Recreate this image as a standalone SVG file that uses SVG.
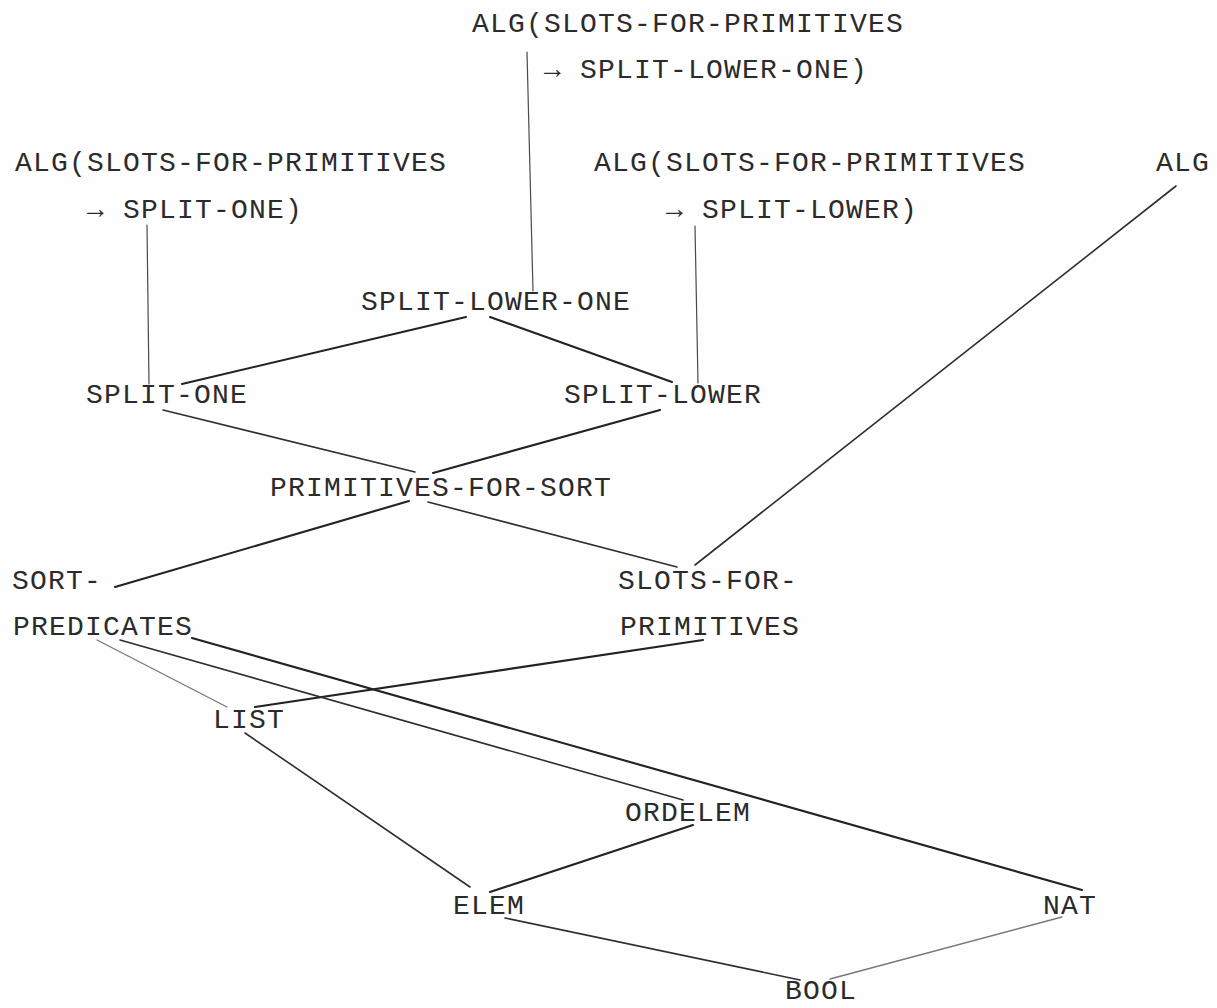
<svg xmlns="http://www.w3.org/2000/svg" width="1217" height="1008" viewBox="0 0 1217 1008">
  <style>
    .lbl { font-family: "Liberation Mono", "DejaVu Sans Mono", monospace; font-size: 28px; letter-spacing: 1.2px; fill: #2b2b2b; }
    .edge { stroke: #2e2e2e; stroke-linecap: round; fill: none; }
    .thin { stroke-width: 1.2; stroke: #4a4a4a; }
    .mid { stroke-width: 1.6; }
    .bold { stroke-width: 2.1; stroke: #222; }
    .faint { stroke-width: 1.3; stroke: #777; }
  </style>
  <rect width="1217" height="1008" fill="#fefefe"/>

  <!-- connectors of the lattice -->
  <g id="edges">
    <line class="edge thin" x1="527" y1="52" x2="533" y2="291"/>
    <line class="edge thin" x1="147" y1="225" x2="149" y2="384"/>
    <line class="edge thin" x1="695" y1="226" x2="698" y2="383"/>
    <line class="edge mid" x1="1176" y1="186" x2="695" y2="565"/>
    <line class="edge bold" x1="466" y1="317" x2="182" y2="384"/>
    <line class="edge bold" x1="490" y1="317" x2="672" y2="382"/>
    <line class="edge mid" x1="163" y1="410" x2="415" y2="472"/>
    <line class="edge bold" x1="660" y1="410" x2="433" y2="473"/>
    <line class="edge bold" x1="409" y1="501" x2="115" y2="587"/>
    <line class="edge mid" x1="428" y1="502" x2="677" y2="567"/>
    <line class="edge bold" x1="703" y1="640" x2="255" y2="707"/>
    <line class="edge faint" x1="97" y1="640" x2="227" y2="707"/>
    <line class="edge mid" x1="120" y1="640" x2="683" y2="800"/>
    <line class="edge bold" x1="192" y1="638" x2="1082" y2="890"/>
    <line class="edge mid" x1="245" y1="733" x2="470" y2="887"/>
    <line class="edge bold" x1="693" y1="825" x2="490" y2="892"/>
    <line class="edge mid" x1="505" y1="918" x2="800" y2="980"/>
    <line class="edge faint" x1="1062" y1="917" x2="830" y2="979"/>
  </g>

  <g id="alg-split-lower-one">
    <text class="lbl" x="472" y="32">ALG(SLOTS-FOR-PRIMITIVES</text>
    <text class="lbl" x="544" y="78">→ SPLIT-LOWER-ONE)</text>
  </g>
  <g id="alg-split-one">
    <text class="lbl" x="15" y="171">ALG(SLOTS-FOR-PRIMITIVES</text>
    <text class="lbl" x="87" y="218">→ SPLIT-ONE)</text>
  </g>
  <g id="alg-split-lower">
    <text class="lbl" x="594" y="171">ALG(SLOTS-FOR-PRIMITIVES</text>
    <text class="lbl" x="666" y="218">→ SPLIT-LOWER)</text>
  </g>
  <g id="alg"><text class="lbl" x="1156" y="171">ALG</text></g>
  <g id="split-lower-one"><text class="lbl" x="361" y="310">SPLIT-LOWER-ONE</text></g>
  <g id="split-one"><text class="lbl" x="86" y="403">SPLIT-ONE</text></g>
  <g id="split-lower"><text class="lbl" x="564" y="403">SPLIT-LOWER</text></g>
  <g id="primitives-for-sort"><text class="lbl" x="270" y="496">PRIMITIVES-FOR-SORT</text></g>
  <g id="sort-predicates">
    <text class="lbl" x="12" y="589">SORT-</text>
    <text class="lbl" x="13" y="635">PREDICATES</text>
  </g>
  <g id="slots-for-primitives">
    <text class="lbl" x="618" y="589">SLOTS-FOR-</text>
    <text class="lbl" x="620" y="635">PRIMITIVES</text>
  </g>
  <g id="list"><text class="lbl" x="213" y="728">LIST</text></g>
  <g id="ordelem"><text class="lbl" x="625" y="821">ORDELEM</text></g>
  <g id="elem"><text class="lbl" x="453" y="914">ELEM</text></g>
  <g id="nat"><text class="lbl" x="1043" y="914">NAT</text></g>
  <g id="bool"><text class="lbl" x="785" y="999">BOOL</text></g>
</svg>
